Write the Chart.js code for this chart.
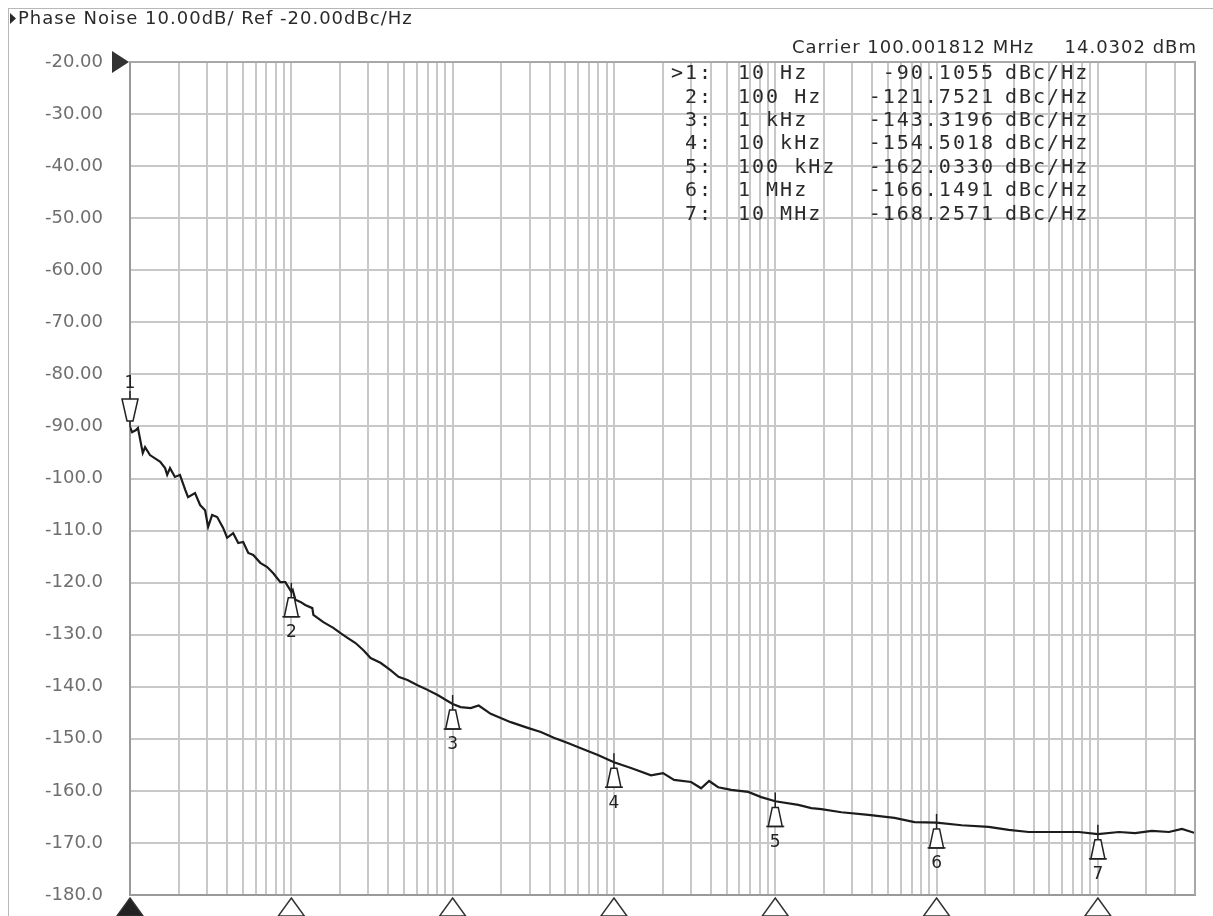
<!DOCTYPE html>
<html>
<head>
<meta charset="utf-8">
<title>Phase Noise</title>
<script src="https://cdn.jsdelivr.net/npm/chart.js@4.4.1/dist/chart.umd.min.js"></script>
<style>
    body { margin: 0; background: #fff; }
    #graficoRuido { display: block; }
</style>
</head>
<body>
<canvas id="graficoRuido" width="1213" height="916"></canvas>
<script>
const freqHz = [10, 10.3, 10.9, 11.2, 12.0, 12.4, 13.3, 15.4, 16.5, 17.0,
    17.7, 19.0, 20.4, 22.0, 22.9, 25.3, 27.2, 29.2, 30.5, 32.3,
    34.7, 37.8, 40.0, 43.6, 46.9, 50.3, 54.1, 58.1, 64.2, 70.9,
    77.3, 85.5, 91.8, 100, 102, 106, 114, 122, 135, 137,
    158, 182, 202, 223, 250, 280, 310, 357, 412, 462,
    525, 606, 699, 807, 1000, 1121, 1294, 1451, 1722, 1987,
    2292, 2923, 3521, 4240, 5179, 6237, 7956, 10000, 12755, 16975,
    20150, 23590, 30080, 34700, 38910, 44260, 53300, 67970, 81850, 100000,
    139000, 167300, 193100, 257000, 378100, 548300, 730000, 1e6, 1.43e6, 2.1e6,
    2.8e6, 3.73e6, 5.18e6, 7.62e6, 1e7, 1.35e7, 1.7e7, 2.16e7, 2.76e7, 3.32e7,
    4e7]

const phaseNoise = [-90.1, -91.1, -90.7, -90.3, -95.1, -94.0, -95.5, -96.8, -98.0, -99.3,
    -98.0, -99.7, -99.3, -102.2, -103.6, -102.8, -105.1, -106.1, -109.3, -107.0,
    -107.4, -109.5, -111.4, -110.5, -112.4, -112.2, -114.3, -114.7, -116.2, -117.0,
    -118.2, -119.9, -119.9, -121.75, -121.4, -123.3, -123.7, -124.3, -124.9, -126.2,
    -127.6, -128.7, -129.7, -130.6, -131.6, -133.0, -134.5, -135.4, -136.8, -138.1,
    -138.7, -139.7, -140.6, -141.6, -143.3, -143.9, -144.1, -143.6, -145.2, -146.0,
    -146.8, -147.9, -148.7, -149.8, -150.8, -151.8, -153.1, -154.5, -155.6, -157.0,
    -156.6, -157.9, -158.3, -159.5, -158.1, -159.3, -159.8, -160.2, -161.2, -162.0,
    -162.7, -163.3, -163.5, -164.1, -164.6, -165.2, -166.0, -166.1, -166.6, -166.9,
    -167.5, -167.9, -167.9, -167.9, -168.3, -167.9, -168.1, -167.7, -167.9, -167.3,
    -168.1]

// marcadores
const markerIds = ['>1:', '2:', '3:', '4:', '5:', '6:', '7:']
const markerFreqs = [10, 100, 1000, 10000, 100000, 1000000, 10000000]
const markerFreqLabels = ['10 Hz', '100 Hz', '1 kHz', '10 kHz', '100 kHz', '1 MHz', '10 MHz']
const markerValues = [-90.1055, -121.7521, -143.3196, -154.5018, -162.0330, -166.1491, -168.2571]

// eixos
const decades = [10, 100, 1000, 10000, 100000, 1000000, 10000000]
const freqMin = 10
const freqMax = 40000000
const refLevel = -20
const bottomLevel = -180
const dbPerDiv = 10

const headerText = 'Phase Noise 10.00dB/ Ref -20.00dBc/Hz'
const carrierText = 'Carrier 100.001812 MHz'
const carrierPower = '14.0302 dBm'

// linhas de grade em 1..9 de cada década
var gridFreqs = []
decades.forEach((d) => {
    for (let m = 1; m <= 9; m++) {
        if (m * d <= freqMax) gridFreqs.push(m * d)
    }
})

var pontos = freqHz.map((f, i) => ({ x: f, y: phaseNoise[i] }))

function desenharMarcador(ctx, px, py, numero, acima) {
    ctx.strokeStyle = '#222'
    ctx.fillStyle = '#fff'
    ctx.lineWidth = 1.5
    ctx.font = '17px "DejaVu Sans"'
    ctx.textAlign = 'center'
    ctx.textBaseline = 'middle'
    if (acima) {
        ctx.beginPath()
        ctx.moveTo(px, py - 36)
        ctx.lineTo(px, py)
        ctx.stroke()
        ctx.beginPath()
        ctx.moveTo(px - 8, py - 28)
        ctx.lineTo(px + 8, py - 28)
        ctx.lineTo(px + 3, py - 6)
        ctx.lineTo(px - 3, py - 6)
        ctx.closePath()
        ctx.fill()
        ctx.stroke()
        ctx.fillStyle = '#222'
        ctx.fillText(numero, px, py - 43)
    } else {
        ctx.beginPath()
        ctx.moveTo(px, py - 9)
        ctx.lineTo(px, py + 6)
        ctx.stroke()
        ctx.beginPath()
        ctx.moveTo(px - 3, py + 6)
        ctx.lineTo(px + 3, py + 6)
        ctx.lineTo(px + 7, py + 25)
        ctx.lineTo(px - 7, py + 25)
        ctx.closePath()
        ctx.fill()
        ctx.stroke()
        ctx.beginPath()
        ctx.moveTo(px - 9, py + 25)
        ctx.lineTo(px + 9, py + 25)
        ctx.stroke()
        ctx.fillStyle = '#222'
        ctx.fillText(numero, px, py + 41)
    }
}

const desenhoAnalisador = {
    id: 'desenhoAnalisador',
    afterDraw(chart) {
        const ctx = chart.ctx
        const area = chart.chartArea
        const escalaX = chart.scales.x
        const escalaY = chart.scales.y
        ctx.save()

        // moldura externa
        ctx.strokeStyle = '#b8b8b8'
        ctx.lineWidth = 1
        ctx.strokeRect(8.5, 8.5, 1215, 915)

        // borda de cima e da direita do gráfico
        ctx.strokeStyle = '#a8a8a8'
        ctx.lineWidth = 2
        ctx.beginPath()
        ctx.moveTo(area.left, area.top)
        ctx.lineTo(area.right, area.top)
        ctx.lineTo(area.right, area.bottom)
        ctx.stroke()

        // cabeçalho
        ctx.fillStyle = '#2a2a2a'
        ctx.beginPath()
        ctx.moveTo(10, 13)
        ctx.lineTo(16, 18.5)
        ctx.lineTo(10, 24)
        ctx.fill()
        ctx.font = '18px "DejaVu Sans"'
        ctx.letterSpacing = '1px'
        ctx.textBaseline = 'middle'
        ctx.textAlign = 'left'
        ctx.fillText(headerText, 18, 19)
        ctx.fillText(carrierText, 792, 48)
        ctx.textAlign = 'right'
        ctx.fillText(carrierPower, 1197, 48)

        // seta do nível de referência
        const yRef = escalaY.getPixelForValue(refLevel)
        ctx.fillStyle = '#333'
        ctx.beginPath()
        ctx.moveTo(112, yRef - 11)
        ctx.lineTo(129, yRef)
        ctx.lineTo(112, yRef + 11)
        ctx.closePath()
        ctx.fill()

        // tabela dos marcadores
        ctx.font = '20px "DejaVu Sans Mono"'
        ctx.letterSpacing = '2px'
        ctx.fillStyle = '#2a2a2a'
        for (let i = 0; i < markerIds.length; i++) {
            const linha = 74 + i * 23.4
            ctx.textAlign = 'right'
            ctx.fillText(markerIds[i], 713, linha)
            ctx.textAlign = 'left'
            ctx.fillText(markerFreqLabels[i], 738, linha)
            ctx.textAlign = 'right'
            ctx.fillText(markerValues[i].toFixed(4), 995, linha)
            ctx.textAlign = 'left'
            ctx.fillText('dBc/Hz', 1005, linha)
        }
        ctx.letterSpacing = '0px'

        // marcadores sobre o traço
        for (let i = 0; i < markerFreqs.length; i++) {
            const px = escalaX.getPixelForValue(markerFreqs[i])
            const py = escalaY.getPixelForValue(markerValues[i])
            desenharMarcador(ctx, px, py, String(i + 1), i == 0)
        }

        // triângulos das décadas embaixo
        decades.forEach((d, i) => {
            const px = escalaX.getPixelForValue(d)
            ctx.beginPath()
            ctx.moveTo(px, area.bottom + 3)
            ctx.lineTo(px + 13, 916)
            ctx.lineTo(px - 13, 916)
            ctx.closePath()
            ctx.lineWidth = 1.5
            ctx.strokeStyle = '#333'
            ctx.fillStyle = i == 0 ? '#222' : '#fff'
            ctx.fill()
            ctx.stroke()
        })

        ctx.restore()
    }
}

const config = {
    type: 'line',
    data: {
        datasets: [{
            label: 'Phase Noise',
            data: pontos,
            borderColor: '#1c1c1c',
            borderWidth: 2.2,
            pointRadius: 0,
            fill: false,
            tension: 0
        }]
    },
    options: {
        responsive: false,
        animation: false,
        layout: { padding: { left: 45, top: 62, right: 18, bottom: 0 } },
        plugins: {
            legend: { display: false },
            tooltip: { enabled: false }
        },
        scales: {
            x: {
                type: 'logarithmic',
                min: freqMin,
                max: freqMax,
                afterBuildTicks: (scale) => {
                    scale.ticks = gridFreqs.map((v) => ({ value: v }))
                },
                afterFit: (scale) => { scale.height = 21 },
                ticks: { display: false },
                grid: { color: '#c8c8c8', lineWidth: 2, drawTicks: false },
                border: { color: '#9a9a9a', width: 2 }
            },
            y: {
                min: bottomLevel,
                max: refLevel,
                afterFit: (scale) => { scale.width = 85 },
                ticks: {
                    stepSize: dbPerDiv,
                    padding: 6,
                    crossAlign: 'far',
                    color: '#6e6e6e',
                    font: { family: 'DejaVu Sans', size: 18 },
                    callback: (v) => v > -100 ? v.toFixed(2) : v.toFixed(1)
                },
                grid: { color: '#c8c8c8', lineWidth: 2, drawTicks: false },
                border: { color: '#9a9a9a', width: 2 }
            }
        }
    },
    plugins: [desenhoAnalisador]
}

let myChart = new Chart(document.getElementById('graficoRuido'), config)
</script>
</body>
</html>
